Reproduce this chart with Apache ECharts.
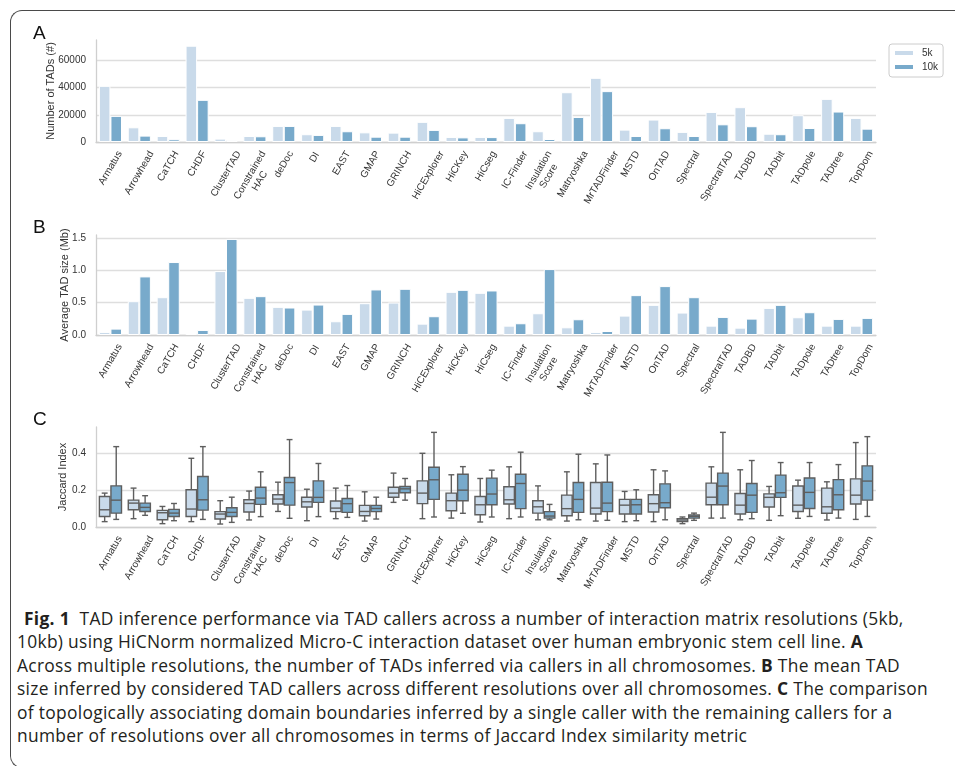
<!DOCTYPE html>
<html>
<head>
<meta charset="utf-8">
<script src="https://cdn.jsdelivr.net/npm/echarts@6/dist/echarts.min.js"></script>
<style>
  html, body { margin: 0; padding: 0; background: #fff; width: 955px; height: 766px; overflow: hidden; }
  #frame { position: absolute; left: 10px; top: 10px; width: 1000px; height: 758px;
           border-left: 1.5px solid #4a4a4a; border-top: 1.5px solid #4a4a4a; border-bottom: 1.5px solid #4a4a4a;
           border-radius: 12px 0 0 12px; box-sizing: border-box; }
  #chart { position: absolute; left: 0; top: 0; width: 955px; height: 604px; }
  #caption { position: absolute; left: 17px; top: 607px; font-family: 'Open Sans', sans-serif; font-size: 17.4px;
             letter-spacing: 0.3px; line-height: 23.4px; color: #231f20; white-space: nowrap; }
  #caption b { font-weight: 700; }
</style>
</head>
<body>
<div id="frame"></div>
<div id="chart"></div>
<div id="caption">
  <div style="padding-left:7px"><b>Fig. 1</b>&nbsp; TAD inference performance via TAD callers across a number of interaction matrix resolutions (5kb,</div>
  <div>10kb) using HiCNorm normalized Micro-C interaction dataset over human embryonic stem cell line. <b>A</b></div>
  <div>Across multiple resolutions, the number of TADs inferred via callers in all chromosomes. <b>B</b> The mean TAD</div>
  <div>size inferred by considered TAD callers across different resolutions over all chromosomes. <b>C</b> The comparison</div>
  <div>of topologically associating domain boundaries inferred by a single caller with the remaining callers for a</div>
  <div>number of resolutions over all chromosomes in terms of Jaccard Index similarity metric</div>
</div>
<script>
// TAD callers shown on every panel
const callers = ['Armatus', 'Arrowhead', 'CaTCH', 'CHDF', 'ClusterTAD', 'Constrained\nHAC', 'deDoc', 'DI', 'EAST',
  'GMAP', 'GRINCH', 'HiCExplorer', 'HiCKey', 'HiCseg', 'IC-Finder', 'Insulation\nScore', 'Matryoshka',
  'MrTADFinder', 'MSTD', 'OnTAD', 'Spectral', 'SpectralTAD', 'TADBD', 'TADbit', 'TADpole', 'TADtree', 'TopDom'];

const resolutions = ['5k', '10k'];

// Panel A: number of TADs
const tadCount5k = [41300, 10800, 4400, 70800, 2500, 4400, 11800, 5700, 11800, 7100, 6900, 14800, 3700, 3700,
  17700, 7900, 36600, 47200, 9100, 16500, 7400, 22100, 25600, 6100, 19700, 31700, 17700];
const tadCount10k = [19200, 4700, 2000, 31000, 1500, 4200, 11800, 5200, 7900, 3900, 3900, 8900, 3400, 3600,
  13800, 2200, 18400, 37400, 4400, 10100, 4400, 13000, 11600, 5700, 10300, 22400, 9800];

// Panel B: average TAD size (Mb)
const tadSize5k = [0.047, 0.524, 0.586, 0.031, 0.991, 0.576, 0.436, 0.394, 0.213, 0.493, 0.503, 0.176, 0.669, 0.654,
  0.145, 0.337, 0.119, 0.047, 0.301, 0.467, 0.348, 0.145, 0.114, 0.420, 0.275, 0.145, 0.145];
const tadSize10k = [0.099, 0.908, 1.131, 0.078, 1.489, 0.602, 0.426, 0.472, 0.327, 0.706, 0.716, 0.291, 0.700, 0.690,
  0.182, 1.022, 0.244, 0.062, 0.618, 0.758, 0.586, 0.280, 0.254, 0.467, 0.353, 0.249, 0.265];

// Panel C: Jaccard index summaries [lower whisker, Q1, median, Q3, upper whisker]
const jaccard5k = [
  [0.029, 0.057, 0.093, 0.165, 0.183], [0.045, 0.093, 0.129, 0.145, 0.210], [0.018, 0.039, 0.077, 0.090, 0.111],
  [0.029, 0.057, 0.097, 0.201, 0.371], [0.016, 0.043, 0.070, 0.083, 0.142], [0.038, 0.081, 0.127, 0.147, 0.194],
  [0.084, 0.124, 0.151, 0.174, 0.242], [0.034, 0.108, 0.136, 0.161, 0.204], [0.045, 0.083, 0.102, 0.140, 0.210],
  [0.032, 0.061, 0.084, 0.117, 0.190], [0.133, 0.161, 0.183, 0.215, 0.291], [0.045, 0.126, 0.183, 0.249, 0.398],
  [0.048, 0.088, 0.142, 0.183, 0.282], [0.027, 0.066, 0.120, 0.165, 0.262], [0.045, 0.124, 0.147, 0.217, 0.325],
  [0.039, 0.075, 0.109, 0.142, 0.222], [0.032, 0.061, 0.099, 0.172, 0.298], [0.032, 0.070, 0.102, 0.240, 0.341],
  [0.029, 0.070, 0.118, 0.149, 0.192], [0.029, 0.081, 0.126, 0.174, 0.309], [0.018, 0.030, 0.038, 0.045, 0.054],
  [0.048, 0.120, 0.161, 0.237, 0.325], [0.039, 0.070, 0.118, 0.181, 0.309], [0.036, 0.108, 0.160, 0.179, 0.219],
  [0.047, 0.084, 0.118, 0.221, 0.253], [0.038, 0.074, 0.109, 0.210, 0.244], [0.041, 0.124, 0.172, 0.260, 0.456]
];
const jaccard10k = [
  [0.041, 0.075, 0.145, 0.222, 0.434], [0.063, 0.084, 0.106, 0.129, 0.169], [0.034, 0.057, 0.075, 0.095, 0.127],
  [0.041, 0.091, 0.147, 0.273, 0.434], [0.025, 0.057, 0.079, 0.104, 0.161], [0.056, 0.122, 0.156, 0.215, 0.298],
  [0.047, 0.118, 0.240, 0.267, 0.472], [0.056, 0.133, 0.160, 0.249, 0.343], [0.052, 0.079, 0.126, 0.154, 0.224],
  [0.043, 0.083, 0.100, 0.117, 0.161], [0.145, 0.185, 0.206, 0.219, 0.262], [0.054, 0.149, 0.255, 0.323, 0.511],
  [0.074, 0.142, 0.199, 0.285, 0.326], [0.054, 0.120, 0.178, 0.264, 0.307], [0.054, 0.099, 0.235, 0.285, 0.404],
  [0.039, 0.048, 0.059, 0.083, 0.122], [0.039, 0.079, 0.149, 0.240, 0.393], [0.036, 0.083, 0.129, 0.242, 0.389],
  [0.034, 0.070, 0.120, 0.149, 0.201], [0.039, 0.104, 0.131, 0.233, 0.303], [0.036, 0.048, 0.057, 0.065, 0.075],
  [0.048, 0.120, 0.221, 0.291, 0.511], [0.045, 0.079, 0.172, 0.235, 0.359], [0.061, 0.160, 0.185, 0.280, 0.348],
  [0.057, 0.100, 0.187, 0.265, 0.348], [0.048, 0.093, 0.174, 0.256, 0.337], [0.057, 0.145, 0.248, 0.330, 0.488]
];

const LIGHT = '#c9daea';
const DARK = '#78aacb';
const EDGE = '#5e5e5e';
const TEXT = '#333333';
const GRIDLINE = '#dedede';
const SPINE = '#cfcfcf';
const AXIS_FONT = 'Liberation Sans';

// Rotated tick labels: bounding box centred under the tick, top edge aligned just below the axis
const LABEL_SIZE = 10;
const LABEL_LH = 11.5;
const measureCtx = document.createElement('canvas').getContext('2d');
measureCtx.font = LABEL_SIZE + 'px "' + AXIS_FONT + '"';
function labelItem(name) {
  const lines = name.split('\n');
  const w = Math.max.apply(null, lines.map(function (l) { return measureCtx.measureText(l).width; }));
  const h = lines.length * LABEL_LH;
  const padTop = Math.max(0, 0.2165 * w - 0.375 * h);
  const padRight = 0.75 * w + 0.433 * h;
  return {
    value: name,
    textStyle: { align: 'center', verticalAlign: 'top', padding: [padTop, padRight, 0, 0] }
  };
}
const labelItems = callers.map(labelItem);

function xAxisFor(gridIndex) {
  return {
    type: 'category', gridIndex: gridIndex, data: labelItems,
    axisLine: { lineStyle: { color: SPINE, width: 1.3 } },
    axisTick: { show: false },
    splitLine: { show: false },
    axisLabel: {
      interval: 0, rotate: 60, align: 'center', verticalAlign: 'top', margin: 7,
      fontSize: LABEL_SIZE, lineHeight: LABEL_LH, color: TEXT, fontFamily: AXIS_FONT
    }
  };
}

function yAxisFor(gridIndex, max, interval, name, nameGap, fmt) {
  return {
    type: 'value', gridIndex: gridIndex, min: 0, max: max, interval: interval,
    name: name, nameLocation: 'middle', nameGap: nameGap, nameMoveOverlap: false,
    nameTextStyle: { fontSize: 11, color: TEXT, fontFamily: AXIS_FONT },
    axisLine: { show: true, lineStyle: { color: SPINE, width: 1.3 } },
    axisTick: { show: false },
    axisLabel: { fontSize: 10, color: TEXT, fontFamily: AXIS_FONT, margin: 10, showMaxLabel: false, formatter: fmt },
    splitLine: { show: true, showMaxLine: false, lineStyle: { color: GRIDLINE, width: 1.3 } }
  };
}

// Box-and-whisker glyph for one resolution inside a caller's band
function boxRenderer(side, fill) {
  return function (params, api) {
    const idx = api.value(0);
    const band = api.size([1, 0])[0];
    const half = band * 0.4;
    const cx = api.coord([idx, 0])[0];
    const x0 = side < 0 ? cx - half + 0.5 : cx + 0.5;
    const w = half - 1;
    const xm = x0 + w / 2;
    const y = function (k) { return api.coord([idx, api.value(k)])[1]; };
    const yLo = y(1), yQ1 = y(2), yMed = y(3), yQ3 = y(4), yHi = y(5);
    const cap = w * 0.28;
    const st = { stroke: EDGE, lineWidth: 1.4, fill: null };
    return {
      type: 'group',
      children: [
        { type: 'line', shape: { x1: xm, y1: yHi, x2: xm, y2: yQ3 }, style: st },
        { type: 'line', shape: { x1: xm, y1: yQ1, x2: xm, y2: yLo }, style: st },
        { type: 'line', shape: { x1: xm - cap, y1: yHi, x2: xm + cap, y2: yHi }, style: st },
        { type: 'line', shape: { x1: xm - cap, y1: yLo, x2: xm + cap, y2: yLo }, style: st },
        { type: 'rect', shape: { x: x0, y: yQ3, width: w, height: yQ1 - yQ3 },
          style: { fill: fill, stroke: EDGE, lineWidth: 1.4 } },
        { type: 'line', shape: { x1: x0, y1: yMed, x2: x0 + w, y2: yMed }, style: st }
      ]
    };
  };
}

function barSeries(name, axis, values, color) {
  return {
    type: 'bar', name: name, xAxisIndex: axis, yAxisIndex: axis, data: values,
    barGap: '0%', barCategoryGap: '20%',
    itemStyle: { color: color, borderColor: '#ffffff', borderWidth: 1 }
  };
}

function boxSeries(name, boxes, side, color) {
  return {
    type: 'custom', name: name, xAxisIndex: 2, yAxisIndex: 2,
    itemStyle: { color: color },
    data: boxes.map(function (b, i) { return [i].concat(b); }),
    encode: { x: 0, y: [1, 2, 3, 4, 5] },
    renderItem: boxRenderer(side, color)
  };
}

const chart = echarts.init(document.getElementById('chart'));
chart.setOption({
  animation: false,
  backgroundColor: 'transparent',
  textStyle: { fontFamily: AXIS_FONT },
  grid: [
    { left: 96, right: 79, top: 40, height: 102 },
    { left: 96, right: 79, top: 235, height: 100 },
    { left: 96, right: 79, top: 427, height: 100 }
  ],
  graphic: [
    { type: 'text', left: 33, top: 24, style: { text: 'A', fontSize: 19, fill: '#111', fontFamily: AXIS_FONT } },
    { type: 'text', left: 33, top: 218, style: { text: 'B', fontSize: 19, fill: '#111', fontFamily: AXIS_FONT } },
    { type: 'text', left: 33, top: 410, style: { text: 'C', fontSize: 19, fill: '#111', fontFamily: AXIS_FONT } }
  ],
  legend: {
    data: resolutions, orient: 'vertical', left: 889, top: 44,
    icon: 'rect', itemWidth: 20, itemHeight: 6, itemGap: 2,
    padding: [3, 5, 4, 4],
    borderColor: '#cccccc', borderWidth: 1, borderRadius: 3,
    textStyle: { fontSize: 10, color: TEXT, fontFamily: AXIS_FONT, padding: [0, 0, 0, 3], lineHeight: 12 }
  },
  xAxis: [xAxisFor(0), xAxisFor(1), xAxisFor(2)],
  yAxis: [
    yAxisFor(0, 75000, 20000, 'Number of TADs (#)', 40, function (v) { return String(v); }),
    yAxisFor(1, 1.55, 0.5, 'Average TAD size (Mb)', 26, function (v) { return v.toFixed(1); }),
    yAxisFor(2, 0.54, 0.2, 'Jaccard Index', 28, function (v) { return v.toFixed(1); })
  ],
  series: [
    barSeries('5k', 0, tadCount5k, LIGHT),
    barSeries('10k', 0, tadCount10k, DARK),
    barSeries('5k', 1, tadSize5k, LIGHT),
    barSeries('10k', 1, tadSize10k, DARK),
    boxSeries('5k', jaccard5k, -1, LIGHT),
    boxSeries('10k', jaccard10k, 1, DARK)
  ]
});
</script>
</body>
</html>
